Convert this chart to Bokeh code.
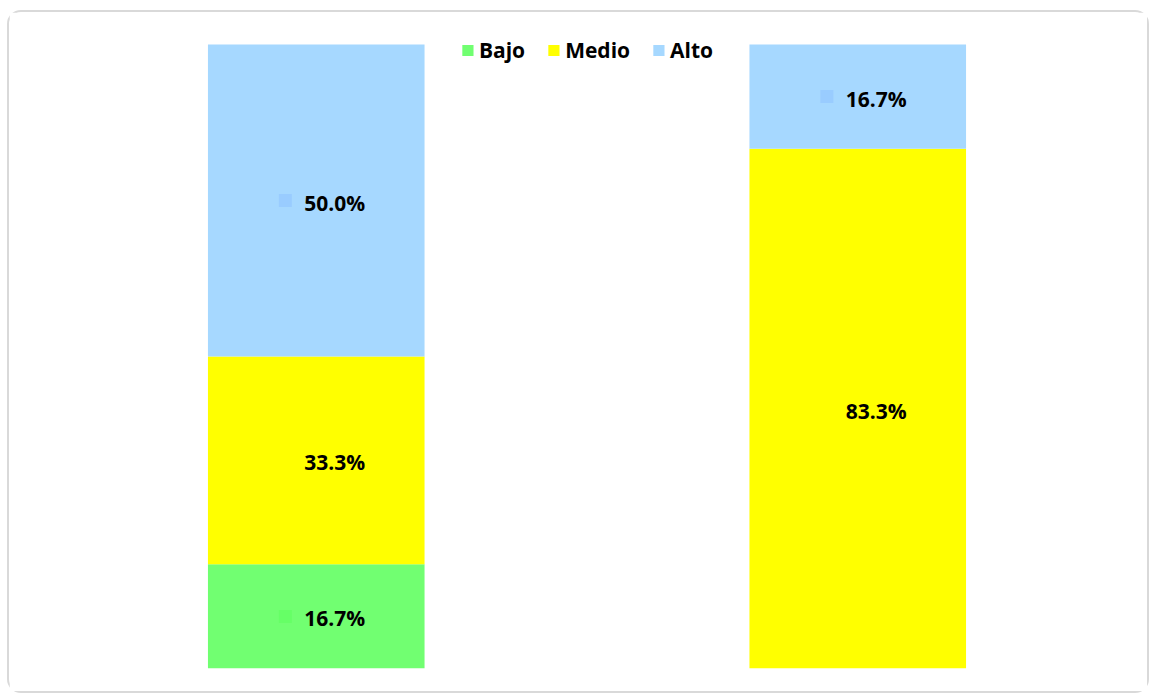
from bokeh.plotting import figure
from bokeh.models import Range1d, FactorRange, Legend, LegendItem, ColumnDataSource
from bokeh.core.properties import value
from bokeh.transform import dodge
from bokeh.embed import file_html
from bokeh.resources import INLINE

categories = ["Grupo 1", "Grupo 2"]
levels = ["Bajo", "Medio", "Alto"]
bajo = [16.7, 0.0]
medio = [33.3, 83.3]
alto = [50.0, 16.7]

bar_colors = {"Bajo": "#71FF71", "Medio": "#FFFF00", "Alto": "#A6D8FF"}
key_colors = {"Bajo": "#66FF66", "Medio": "#FFFF00", "Alto": "#99CCFF"}

FONT = "Open Sans"

p = figure(width=1142, height=683, output_backend="svg", toolbar_location=None,
           x_range=FactorRange(*categories, range_padding=0), y_range=Range1d(0, 100 * 632 / 624),
           min_border_left=36, min_border_right=23, min_border_top=24, min_border_bottom=27)
p.axis.visible = False
p.grid.visible = False
p.outline_line_color = None
p.background_fill_color = "white"
p.border_fill_color = "white"
p.styles = {"border": "2px solid #d9d9d9", "border-radius": "14px",
            "margin-left": "7px", "margin-top": "10px"}

data = {"cat": categories, "Bajo": bajo, "Medio": medio, "Alto": alto}
src = ColumnDataSource(data)
renderers = p.vbar_stack(levels, x="cat", width=0.4, source=src,
                         color=[bar_colors[l] for l in levels], line_color=None)

# data labels
series = {"Bajo": bajo, "Medio": medio, "Alto": alto}
lab = {"cat": [], "y": [], "text": [], "kc": []}
for i, cat in enumerate(categories):
    base = 0.0
    for lvl in levels:
        v = series[lvl][i]
        if v > 0:
            lab["cat"].append(cat)
            lab["y"].append(base + v / 2)
            lab["text"].append(f"{v:.1f}%")
            lab["kc"].append(key_colors[lvl])
        base += v
lsrc = ColumnDataSource(lab)
p.scatter(x=dodge("cat", -0.057, range=p.x_range), y="y", source=lsrc, marker="square",
          size=13, fill_color="kc", line_color=None)
p.text(x="cat", y="y", text="text", source=lsrc, x_offset=-12, y_offset=2,
       text_align="left", text_baseline="middle",
       text_font=value(FONT), text_font_style="bold",
       text_font_size="21px", text_color="black")

legend = Legend(items=[LegendItem(label=l, renderers=[r]) for l, r in zip(levels, renderers)],
                orientation="horizontal", location="top_center",
                border_line_color=None, background_fill_alpha=0,
                label_text_font=FONT, label_text_font_style="bold", label_text_font_size="21px",
                label_text_color="black",
                glyph_width=14, glyph_height=14, label_standoff=5, spacing=21,
                margin=0, padding=0)
p.add_layout(legend, "center")

open("out.html", "w").write(file_html(p, INLINE))
